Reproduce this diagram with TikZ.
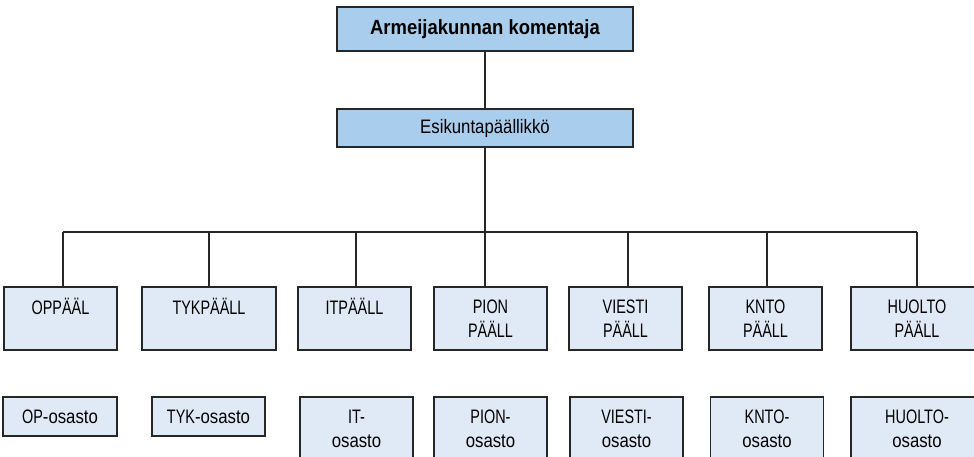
\documentclass[tikz,border=0pt]{standalone}
\usepackage{fontspec}
\setmainfont[FakeStretch=0.86]{Liberation Sans}
\newfontfamily\headfont[FakeStretch=0.9]{Liberation Sans}
\newfontfamily\capsfont[FakeStretch=0.74]{Liberation Sans}
\newcommand{\uc}[1]{{\capsfont #1}}
\usepackage{tikz}
\usetikzlibrary{positioning}
\definecolor{oTop}{HTML}{A9CDEC}
\definecolor{oUnit}{HTML}{DFEAF6}
\definecolor{oLine}{HTML}{262626}
\tikzset{
  orgbox/.style={draw=oLine, line width=1.3pt, minimum width=113pt, inner sep=0pt,
    align=center, font=\fontsize{19.5}{23.5}\selectfont},
  headbox/.style={orgbox, fill=oTop, minimum width=296pt},
  unitbox/.style={orgbox, fill=oUnit, minimum height=63pt},
  deptbox/.style={orgbox, fill=oUnit, minimum height=39pt},
  link/.style={draw=oLine, line width=1.3pt},
}
\begin{document}
\begin{tikzpicture}[x=1pt, y=-1pt]
  \clip (0,0) rectangle (974,457);
  \node[headbox, minimum height=44pt, font=\fontsize{20.5}{24}\headfont\bfseries] (akom) at (485,29)
    {Armeijakunnan komentaja};
  \node[headbox, minimum height=38pt] (espal) at (485,128) {Esikuntapäällikkö};

  \node[unitbox] (oppaal) at (60.5,318.5) {\uc{OPPÄÄL}\\\mbox{}};
  \node[unitbox, minimum width=134pt] (tykpaal) at (209,318.5) {\uc{TYKPÄÄLL}\\\mbox{}};
  \node[unitbox] (itpaal) at (354.5,318.5) {\uc{ITPÄÄLL}\\\mbox{}};
  \node[unitbox] (pionpaal) at (490.5,318.5) {\uc{PION}\\\uc{PÄÄLL}};
  \node[unitbox] (viestipaal) at (625.5,318.5) {\uc{VIESTI}\\\uc{PÄÄLL}};
  \node[unitbox] (kntopaal) at (765.5,318.5) {\uc{KNTO}\\\uc{PÄÄLL}};
  \node[unitbox, minimum width=132pt] (huoltopaal) at (917,318.5) {\uc{HUOLTO}\\\uc{PÄÄLL}};

  \node[deptbox, minimum width=114pt] (opos) at (60,416.5) {\uc{OP}-osasto};
  \node[deptbox] (tykos) at (208.5,416.5) {\uc{TYK}-osasto};
  \node[unitbox, minimum height=64pt] (itos) at (356.5,429) {\uc{IT-}\\osasto};
  \node[unitbox, minimum height=64pt] (pionos) at (490.5,429) {\uc{PION-}\\osasto};
  \node[unitbox, minimum height=64pt] (viestios) at (626.5,429) {\uc{VIESTI-}\\osasto};
  \node[unitbox, minimum height=64pt] (kntoos) at (767,429) {\uc{KNTO-}\\osasto};
  \node[unitbox, minimum height=64pt, minimum width=132pt] (huoltoos) at (917,429) {\uc{HUOLTO-}\\osasto};

  \coordinate (busL) at (63,232);
  \coordinate (busR) at (917,232);
  \draw[link] (akom) -- (espal);
  \draw[link] (espal.south) -- (espal.south |- pionpaal.north);
  \draw[link] (busL) -- (busR);
  \draw[link] (busL) -- (busL |- oppaal.north);
  \draw[link] (tykpaal.north) -- (tykpaal.north |- busL);
  \draw[link] ([xshift=1.5pt]itpaal.north) -- ([xshift=1.5pt]itpaal.north |- busL);
  \draw[link] ([xshift=2.5pt]viestipaal.north) -- ([xshift=2.5pt]viestipaal.north |- busL);
  \draw[link] ([xshift=1.5pt]kntopaal.north) -- ([xshift=1.5pt]kntopaal.north |- busL);
  \draw[link] (huoltopaal.north) -- (busR);
\end{tikzpicture}
\end{document}
